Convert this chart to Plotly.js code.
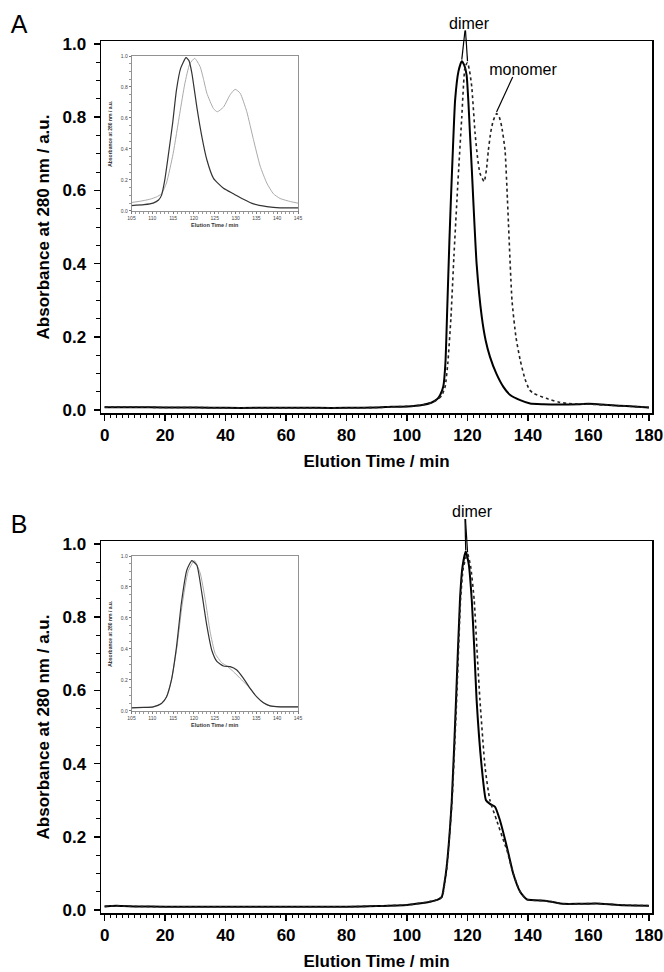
<!DOCTYPE html>
<html>
<head>
<meta charset="utf-8">
<script src="https://cdn.plot.ly/plotly-3.0.1.min.js"></script>
<style>html,body{margin:0;padding:0;background:#fff;}#chart{width:664px;height:972px;}</style>
</head>
<body>
<div id="chart"></div>
<script>
// ---------- Panel A main ----------
const aSolidT = [0,10,20,30,40,50,60,70,80,90,95,100,105,108,110,111,112,112.7,113.3,114,114.5,115.2,115.9,117,118.1,119,119.7,120.3,120.8,121.4,121.9,123,124.7,126,127.4,129.5,131.8,134,137.4,140.7,145,150,157,160,163,170,175,180];
const aSolidV = [0.008,0.008,0.007,0.007,0.006,0.006,0.006,0.006,0.006,0.007,0.009,0.010,0.014,0.020,0.030,0.042,0.065,0.13,0.28,0.46,0.574,0.72,0.847,0.925,0.953,0.94,0.915,0.84,0.756,0.66,0.574,0.40,0.255,0.19,0.146,0.10,0.064,0.042,0.027,0.018,0.016,0.015,0.016,0.017,0.016,0.012,0.010,0.007];
const aDotT = [0,10,20,30,40,50,60,70,80,90,95,100,105,108,110,111.5,112.6,113.5,114.5,115.5,116.5,117.3,118.1,119.2,120.0,120.7,121.4,122.5,123.3,124.1,125.5,126.3,126.9,127.7,128.5,129.6,130.5,131.3,132.4,133.2,134.7,136,137.4,139,140.5,142,146,150,153,160,165,170,180];
const aDotV = [0.008,0.008,0.007,0.007,0.006,0.006,0.006,0.006,0.006,0.007,0.009,0.010,0.014,0.020,0.028,0.040,0.064,0.13,0.25,0.42,0.574,0.69,0.80,0.938,0.949,0.925,0.883,0.756,0.69,0.647,0.624,0.66,0.71,0.76,0.79,0.81,0.80,0.774,0.71,0.574,0.30,0.20,0.137,0.085,0.055,0.045,0.032,0.022,0.018,0.016,0.014,0.012,0.007];

// ---------- Panel A inset ----------
const iaBlackT = [105,108,110.2,111.5,112.2,113,113.8,114.9,115.8,116.8,118.1,118.8,119.5,120.7,121.9,123.1,124.7,127.1,129.5,131.9,134.3,137.5,140.7,145];
const iaBlackV = [0.034,0.04,0.05,0.07,0.10,0.20,0.35,0.57,0.78,0.92,0.99,0.97,0.89,0.67,0.48,0.33,0.21,0.146,0.11,0.075,0.045,0.028,0.02,0.02];
const iaGrayT = [105,107,109.4,111,112.2,113.4,115,116.6,117.8,119,120.2,121.5,122.3,123.1,124.7,125.6,127.1,128.7,129.9,131.1,132.7,134.3,135.9,137.5,139.1,140.7,143.2,145];
const iaGrayV = [0.054,0.062,0.075,0.09,0.11,0.18,0.37,0.63,0.82,0.95,0.985,0.93,0.85,0.76,0.66,0.64,0.67,0.75,0.785,0.76,0.64,0.46,0.29,0.18,0.11,0.08,0.06,0.05];

// ---------- Panel B main ----------
const bSolidT = [0,2,4,6,10,20,40,60,80,90,100,103,107.6,110,111.5,112.3,113.1,114.8,116.2,117.5,118.3,119.4,120.4,121.4,122.2,123.0,124.7,126.1,127.4,129.1,130.7,133.0,135.1,137.4,139.6,146.2,151.7,157,162.6,170,180];
const bSolidV = [0.010,0.011,0.012,0.011,0.010,0.009,0.009,0.009,0.009,0.011,0.014,0.017,0.023,0.028,0.036,0.07,0.118,0.30,0.574,0.847,0.935,0.979,0.945,0.847,0.72,0.574,0.39,0.30,0.29,0.282,0.246,0.173,0.10,0.05,0.029,0.025,0.017,0.017,0.018,0.014,0.012];
const bDotT = [0,2,4,6,10,20,40,60,80,90,100,103,107.6,110,111.6,112.4,113.2,114.9,116.4,117.7,118.6,120.0,121.0,122.2,123.2,124.1,125.8,127.4,129.6,132.4,133.0,135.1,137.4,139.6,146.2,151.7,157,162.6,170,180];
const bDotV = [0.010,0.011,0.012,0.011,0.010,0.009,0.009,0.009,0.009,0.011,0.014,0.017,0.023,0.028,0.036,0.07,0.118,0.30,0.574,0.847,0.935,0.973,0.94,0.847,0.70,0.574,0.39,0.30,0.246,0.178,0.165,0.10,0.05,0.029,0.025,0.017,0.017,0.018,0.014,0.012];

// ---------- Panel B inset ----------
const ibBlackT = [105,108,110.2,112.2,113.4,114.6,115.8,117,118.3,119.5,120.7,121.9,123.1,124.3,125.5,127.1,128.7,130.3,131.9,133.5,135.1,136.7,138.3,140.7,145];
const ibBlackV = [0.02,0.022,0.026,0.048,0.09,0.20,0.41,0.70,0.91,0.97,0.94,0.76,0.55,0.39,0.32,0.29,0.286,0.264,0.21,0.145,0.09,0.052,0.032,0.026,0.026];
const ibGrayT = [105,108,110.2,112.2,113.4,114.6,115.9,117.2,118.6,120.1,121.5,122.7,123.9,125.1,126.7,127.9,129.5,131.1,132.7,133.5,135.1,136.7,138.3,140.7,145];
const ibGrayV = [0.02,0.022,0.026,0.048,0.09,0.20,0.41,0.69,0.90,0.97,0.89,0.72,0.51,0.37,0.31,0.29,0.253,0.21,0.167,0.145,0.09,0.052,0.032,0.026,0.026];

// ---------- Tick labels ----------
const mainXTicks = [0,20,40,60,80,100,120,140,160,180];
const mainYTicks = [0.0,0.2,0.4,0.6,0.8,1.0];
const insetXTicks = [105,110,115,120,125,130,135,140,145];
const insetYTicks = [0.0,0.2,0.4,0.6,0.8,1.0];

const FONT = '"Liberation Sans", Arial, Helvetica, sans-serif';
const W = 664, H = 972;
const px = v => v / W;
const py = v => 1 - v / H;

function peakIdx(v, from, to, t) {
  let best = -1;
  for (let i = 0; i < v.length; i++) {
    if (t[i] >= from && t[i] <= to && (best < 0 || v[i] > v[best])) best = i;
  }
  return best;
}
function lin(ticks) { return {tickmode: 'linear', tick0: ticks[0], dtick: +(ticks[1] - ticks[0]).toFixed(6)}; }

const sp = {shape: 'spline', smoothing: 0.5};
const traces = [
  {x: aSolidT, y: aSolidV, xaxis: 'x', yaxis: 'y', mode: 'lines', line: Object.assign({color: '#000', width: 2}, sp)},
  {x: aDotT, y: aDotV, xaxis: 'x', yaxis: 'y', mode: 'lines', line: Object.assign({color: '#222', width: 1.6, dash: 'dot'}, sp)},
  {x: bSolidT, y: bSolidV, xaxis: 'x2', yaxis: 'y2', mode: 'lines', line: Object.assign({color: '#000', width: 2}, sp)},
  {x: bDotT, y: bDotV, xaxis: 'x2', yaxis: 'y2', mode: 'lines', line: Object.assign({color: '#222', width: 1.6, dash: 'dot'}, sp)},
  {x: iaGrayT, y: iaGrayV, xaxis: 'x3', yaxis: 'y3', mode: 'lines', line: Object.assign({color: '#aaa', width: 1}, sp)},
  {x: iaBlackT, y: iaBlackV, xaxis: 'x3', yaxis: 'y3', mode: 'lines', line: Object.assign({color: '#333', width: 1.2}, sp)},
  {x: ibGrayT, y: ibGrayV, xaxis: 'x4', yaxis: 'y4', mode: 'lines', line: Object.assign({color: '#aaa', width: 1}, sp)},
  {x: ibBlackT, y: ibBlackV, xaxis: 'x4', yaxis: 'y4', mode: 'lines', line: Object.assign({color: '#333', width: 1.2}, sp)}
];

const X_RANGE = [-1.2, 181], Y_RANGE = [-0.008, 1.008];
const xDom = [px(101), px(652)];
const yDomA = [py(413), py(41)];
const yDomB = [py(913), py(541)];

function mainX(dom, anchor) {
  return Object.assign(lin(mainXTicks), {
    domain: dom, anchor: anchor, range: X_RANGE,
    ticks: 'outside', ticklen: 6, tickwidth: 1.5, tickcolor: '#000',
    minor: {tickmode: 'linear', tick0: 0, dtick: 2, ticks: 'outside', ticklen: 3.5, tickwidth: 1, tickcolor: '#000', showgrid: false},
    showline: true, linewidth: 1.5, linecolor: '#000', mirror: true,
    showgrid: false, zeroline: false,
    tickfont: {family: FONT, size: 17, color: '#000', weight: 'bold'},
    title: {text: 'Elution Time / min', standoff: 11, font: {family: FONT, size: 17, color: '#000', weight: 'bold'}}
  });
}
function mainY(dom, anchor) {
  return Object.assign(lin(mainYTicks), {
    domain: dom, anchor: anchor, range: Y_RANGE, tickformat: '.1f',
    ticks: 'outside', ticklen: 6, tickwidth: 1.5, tickcolor: '#000', ticklabelstandoff: 4,
    minor: {tickmode: 'linear', tick0: 0, dtick: 0.05, ticks: 'outside', ticklen: 3.5, tickwidth: 1, tickcolor: '#000', showgrid: false},
    showline: true, linewidth: 1.5, linecolor: '#000', mirror: true,
    showgrid: false, zeroline: false,
    tickfont: {family: FONT, size: 17, color: '#000', weight: 'bold'},
    title: {text: 'Absorbance at 280 nm / a.u.', standoff: 8, font: {family: FONT, size: 17, color: '#000', weight: 'bold'}}
  });
}
function insetX(dom, anchor) {
  return Object.assign(lin(insetXTicks), {
    domain: dom, anchor: anchor, range: [105, 145],
    ticks: 'outside', ticklen: 2, tickwidth: 0.8, tickcolor: '#555',
    minor: {tickmode: 'linear', tick0: 105, dtick: 1, ticks: 'outside', ticklen: 1.5, tickwidth: 0.6, tickcolor: '#555', showgrid: false},
    showline: true, linewidth: 0.8, linecolor: '#777', mirror: true,
    showgrid: false, zeroline: false,
    tickfont: {family: FONT, size: 5, color: '#444'},
    title: {text: 'Elution Time / min', standoff: 2, font: {family: FONT, size: 5.5, color: '#333', weight: 'bold'}}
  });
}
function insetY(dom, anchor) {
  return Object.assign(lin(insetYTicks), {
    domain: dom, anchor: anchor, range: [-0.004, 1.0], tickformat: '.1f',
    ticks: 'outside', ticklen: 2, tickwidth: 0.8, tickcolor: '#555',
    minor: {tickmode: 'linear', tick0: 0, dtick: 0.05, ticks: 'outside', ticklen: 1.5, tickwidth: 0.6, tickcolor: '#555', showgrid: false},
    showline: true, linewidth: 0.8, linecolor: '#777', mirror: true,
    showgrid: false, zeroline: false,
    tickfont: {family: FONT, size: 5, color: '#444'},
    title: {text: 'Absorbance at 280 nm / a.u.', font: {family: FONT, size: 5, color: '#333', weight: 'bold'}}
  });
}

// data -> paper helpers (for the leader lines of the peak labels)
const dx2p = t => xDom[0] + (t - X_RANGE[0]) / (X_RANGE[1] - X_RANGE[0]) * (xDom[1] - xDom[0]);
const dy2p = (v, dom) => dom[0] + (v - Y_RANGE[0]) / (Y_RANGE[1] - Y_RANGE[0]) * (dom[1] - dom[0]);

const ia = peakIdx(aSolidV, 100, 125, aSolidT);
const iad = peakIdx(aDotV, 100, 123, aDotT);
const iam = peakIdx(aDotV, 127, 135, aDotT);
const ib = peakIdx(bSolidV, 100, 125, bSolidT);
const ibd = peakIdx(bDotV, 100, 125, bDotT);

function leader(t, v, dom, tailX, tailY) {
  return {type: 'line', xref: 'paper', yref: 'paper', layer: 'above',
          x0: px(tailX), y0: py(tailY), x1: dx2p(t), y1: dy2p(v, dom) + 1.5 / H,
          line: {color: '#000', width: 1.2}};
}
// text label drawn as the label of an invisible box shape
function textBox(cx, cy, w, h, text, size) {
  return {type: 'rect', xref: 'paper', yref: 'paper', layer: 'above',
          x0: px(cx - w / 2), x1: px(cx + w / 2), y0: py(cy + h / 2), y1: py(cy - h / 2),
          line: {width: 0, color: 'rgba(0,0,0,0)'}, fillcolor: 'rgba(0,0,0,0)',
          label: {text: text, textposition: 'middle center', padding: 0,
                  font: {family: FONT, size: size, color: '#000'}}};
}

const layout = {
  width: W, height: H,
  margin: {l: 0, r: 0, t: 0, b: 0},
  paper_bgcolor: '#fff', plot_bgcolor: 'rgba(0,0,0,0)',
  showlegend: false,
  font: {family: FONT, color: '#000'},
  xaxis: mainX(xDom, 'y'),
  yaxis: mainY(yDomA, 'x'),
  xaxis2: mainX(xDom, 'y2'),
  yaxis2: mainY(yDomB, 'x2'),
  xaxis3: insetX([px(131.5), px(298)], 'y3'),
  yaxis3: insetY([py(211.5), py(56)], 'x3'),
  xaxis4: insetX([px(131.5), px(298)], 'y4'),
  yaxis4: insetY([py(711.5), py(556)], 'x4'),
  shapes: [
    leader(aSolidT[ia], aSolidV[ia], yDomA, 465, 30.5),
    leader(aDotT[iad], aDotV[iad], yDomA, 465.5, 30.5),
    leader(aDotT[iam], aDotV[iam], yDomA, 512.7, 77),
    leader(bSolidT[ib], bSolidV[ib], yDomB, 465, 519),
    leader(bDotT[ibd], bDotV[ibd], yDomB, 465.5, 519),
    textBox(19, 22, 24, 26, 'A', 25),
    textBox(19, 522, 24, 26, 'B', 25),
    textBox(469, 21, 60, 18, 'dimer', 16),
    textBox(523, 67, 90, 18, 'monomer', 16),
    textBox(472, 509, 60, 18, 'dimer', 16)
  ]
};

Plotly.newPlot('chart', traces, layout, {staticPlot: true, displayModeBar: false});
</script>
</body>
</html>
